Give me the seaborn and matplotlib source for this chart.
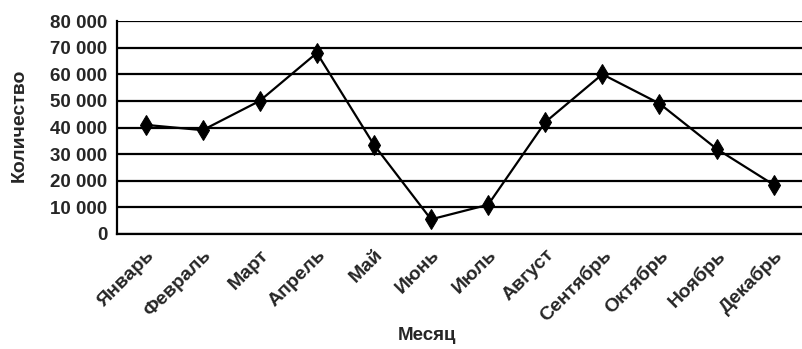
import matplotlib
matplotlib.use("Agg")
import matplotlib.pyplot as plt
import matplotlib.ticker as mticker
import seaborn as sns
import pandas as pd

months = ["Январь", "Февраль", "Март", "Апрель", "Май", "Июнь", "Июль",
          "Август", "Сентябрь", "Октябрь", "Ноябрь", "Декабрь"]
counts = [41000, 39000, 50000, 68000, 33500, 5500, 11000, 42000, 60000, 49000, 32000, 18500]
y_ticks = [0, 10000, 20000, 30000, 40000, 50000, 60000, 70000, 80000]

sns.set_style("white")
plt.rcParams['font.family'] = ['Liberation Sans', 'DejaVu Sans']

df = pd.DataFrame({"pos": range(len(months)), "month": months, "count": counts})

fig = plt.figure(figsize=(8.03, 3.49), dpi=100)
ax = fig.add_axes([117/803, 1 - 234/349, 1 - 117/803 - 0.001, (234 - 21)/349])

ax.set_axisbelow(True)
ax.yaxis.grid(True, color="black", linewidth=1.6)
ax.xaxis.grid(False)

sns.lineplot(data=df, x="pos", y="count", ax=ax, color="black", linewidth=1.6,
             marker="d", markersize=10, markerfacecolor="black", markeredgecolor="black")

ax.set_xlim(-0.5, len(months) - 0.5)
ax.set_ylim(0, 80000)
ax.set_yticks(y_ticks)
ax.yaxis.set_major_formatter(mticker.FuncFormatter(lambda v, p: f"{int(v):,}".replace(",", " ")))

# category boundaries as major ticks, labels at centers via minor ticks
ax.set_xticks([i - 0.5 for i in range(len(months) + 1)])
ax.set_xticklabels([])
ax.set_xticks(range(len(months)), minor=True)
ax.set_xticklabels(months, minor=True, rotation=45, ha="right", rotation_mode="anchor",
                   fontsize=14, fontweight="bold")
ax.tick_params(axis="x", which="major", direction="out", length=6, width=1.5, color="black")
ax.tick_params(axis="x", which="minor", length=0, pad=9)
ax.tick_params(axis="y", which="major", direction="out", length=5, width=1.5, color="black",
               labelsize=13.5, pad=2)
for lab in ax.get_yticklabels():
    lab.set_fontweight("bold")

for s in ["top", "right"]:
    ax.spines[s].set_visible(False)
for s in ["left", "bottom"]:
    ax.spines[s].set_color("black")
    ax.spines[s].set_linewidth(1.6)

ax.set_xlabel("Месяц", fontsize=13.5, fontweight="bold")
ax.set_ylabel("Количество", fontsize=14, fontweight="bold")
ax.xaxis.set_label_coords((427 - 117) / (803 - 117), -(327 - 234) / (234 - 21))
ax.yaxis.set_label_coords(-(117 - 28) / (803 - 117), (234 - 125) / (234 - 21))

fig.savefig("out.png", dpi=100)
